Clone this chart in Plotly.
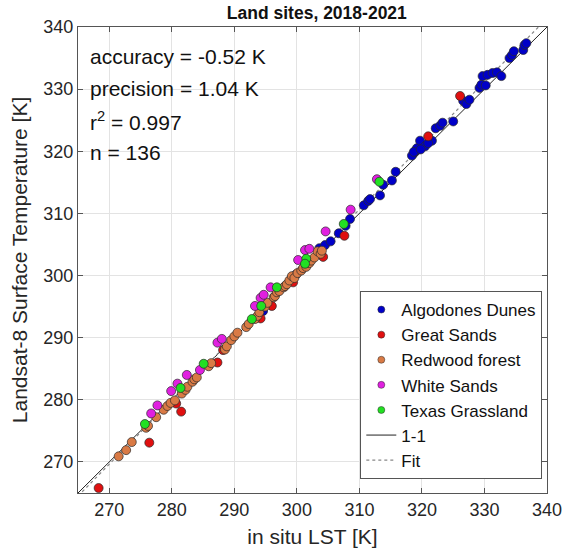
import numpy as np
import plotly.graph_objects as go

# ---------------- data ----------------
algodones_x = [299.9, 294.6, 303.6, 304.5, 305.4, 306.7, 307.8, 308.5, 310.7, 311.4,
               311.7, 313.3, 313.8, 315.2, 315.8, 318.4, 318.9, 319.2, 319.7, 320.5,
               321.6, 322.2, 322.9, 323.3, 325.0, 326.6, 327.1, 327.6, 329.2, 329.5,
               330.2, 329.7, 330.5, 331.3, 332.0, 332.7, 334.0, 334.4, 334.7, 336.2,
               336.4, 336.7, 318.7, 319.8, 321.0]
algodones_y = [300.2, 294.3, 304.4, 304.9, 305.5, 306.8, 308.0, 309.1, 311.3, 312.0,
               312.3, 312.9, 314.6, 315.3, 316.7, 319.3, 320.0, 320.5, 321.7, 320.8,
               321.7, 323.7, 324.1, 324.6, 324.8, 328.1, 327.6, 328.3, 330.2, 330.7,
               330.6, 332.1, 332.3, 332.6, 332.7, 332.1, 335.0, 335.5, 336.1, 336.3,
               337.1, 337.4, 319.9, 320.3, 321.3]

greatsands_x = [268.3, 276.4, 281.5, 280.7, 287.3, 288.2, 296.0, 294.2, 299.4, 304.2,
                307.6, 321.0, 326.1]
greatsands_y = [265.8, 273.1, 278.1, 279.4, 286.0, 288.0, 295.1, 293.1, 298.9, 303.0,
                306.4, 322.4, 328.9]

redwood_x = [271.5, 272.7, 273.6, 275.9, 276.2, 277.5, 278.7, 279.3, 279.8, 280.5,
             281.6, 282.2, 282.5, 283.3, 283.6, 284.0, 285.9, 286.3, 288.5, 288.8,
             289.5, 290.0, 290.5, 291.9, 292.3, 293.3, 293.7, 294.0, 294.9, 295.3,
             296.3, 296.5, 296.8, 297.2, 297.9, 298.1, 298.4, 298.8, 299.2, 299.6,
             300.1, 300.7, 301.0, 301.5, 302.0, 302.3, 302.8, 303.3, 303.8, 304.0]
redwood_y = [270.9, 271.9, 273.2, 275.5, 275.8, 277.2, 278.4, 279.0, 279.5, 279.9,
             281.0, 281.6, 282.1, 282.9, 283.3, 283.6, 285.4, 285.9, 288.1, 288.6,
             289.6, 290.2, 290.8, 291.7, 292.2, 293.0, 293.5, 294.1, 295.0, 295.6,
             296.5, 296.7, 297.3, 297.5, 298.1, 298.3, 298.6, 299.2, 299.9, 299.6,
             300.4, 300.8, 301.2, 301.4, 302.0, 302.4, 302.9, 303.9, 303.5, 304.0]

whitesands_x = [276.7, 277.7, 279.9, 280.9, 282.4, 284.5, 287.3, 288.0, 293.3, 294.2,
                294.7, 295.8, 300.2, 301.3, 302.0, 304.6, 308.6, 312.8]
whitesands_y = [277.8, 279.1, 281.4, 282.6, 284.0, 284.8, 289.2, 289.8, 295.1, 296.4,
                296.9, 298.1, 302.5, 304.1, 304.3, 307.1, 310.6, 315.5]

texas_x = [275.7, 281.4, 285.1, 292.8, 294.3, 296.8, 301.5, 301.3, 307.5, 313.2]
texas_y = [276.1, 281.9, 285.8, 293.0, 295.1, 298.1, 302.7, 301.9, 308.3, 315.1]

site_names = ["Algodones Dunes", "Great Sands", "Redwood forest", "White Sands", "Texas Grassland"]
site_colors = ["#0000C8", "#E01010", "#D97A45", "#E020E0", "#22E022"]

stats_lines = ["accuracy = -0.52 K", "precision = 1.04 K", "r<sup>2</sup> = 0.997", "n = 136"]
axis_range = [265, 340]
tick_vals = [270, 280, 290, 300, 310, 320, 330, 340]

FONT = "Liberation Sans, Arial, sans-serif"

# ---------------- figure ----------------
all_x = np.array(algodones_x + greatsands_x + redwood_x + whitesands_x + texas_x)
all_y = np.array(algodones_y + greatsands_y + redwood_y + whitesands_y + texas_y)
slope, intercept = np.polyfit(all_x, all_y, 1)
line_x = np.array(axis_range, dtype=float)

fig = go.Figure()

fig.add_trace(go.Scatter(x=line_x, y=line_x, mode="lines", name="1-1",
                         line=dict(color="#222222", width=1), legendrank=6))
fig.add_trace(go.Scatter(x=line_x, y=intercept + slope * line_x, mode="lines", name="Fit",
                         line=dict(color="#888888", width=1.2, dash="dot"), legendrank=7))

series = [(algodones_x, algodones_y), (greatsands_x, greatsands_y), (redwood_x, redwood_y),
          (whitesands_x, whitesands_y), (texas_x, texas_y)]
for i, ((xs, ys), name, col) in enumerate(zip(series, site_names, site_colors)):
    fig.add_trace(go.Scatter(x=xs, y=ys, mode="markers", name=name, showlegend=False,
                             legendgroup=name,
                             marker=dict(color=col, size=9,
                                         line=dict(color="#2a2a2a", width=0.7))))
    # legend entry with the small marker used in the reference legend
    fig.add_trace(go.Scatter(x=[None], y=[None], mode="markers", name=name,
                             legendgroup=name, legendrank=i + 1,
                             marker=dict(color=col, size=7,
                                         line=dict(color="#2a2a2a", width=0.5))))

stat_y = [0.936, 0.868, 0.799, 0.731]
for txt, yy in zip(stats_lines, stat_y):
    fig.add_annotation(x=0.021, y=yy, xref="paper", yref="paper",
                       text=txt, showarrow=False, xanchor="left", yanchor="middle",
                       font=dict(size=21, color="#111111", family=FONT))

axis_common = dict(range=axis_range, tickvals=tick_vals, ticks="inside", ticklen=5,
                   tickcolor="#555555", showline=True, linecolor="#555555", linewidth=1,
                   mirror="ticks", showgrid=True, gridcolor="#E3E3E3", gridwidth=1,
                   zeroline=False, ticklabeloverflow="allow",
                   tickfont=dict(size=18, color="#262626", family=FONT))

fig.update_layout(
    width=574, height=556,
    margin=dict(l=78, r=17, t=27, b=59),
    paper_bgcolor="white", plot_bgcolor="white",
    font=dict(family=FONT, color="#262626"),
    title=dict(text="<b>Land sites, 2018-2021</b>", x=0.552, xanchor="center",
               y=0.988, yanchor="top", font=dict(size=17.5, color="#111111", family=FONT)),
    xaxis=dict(axis_common, title=dict(text="in situ LST [K]",
                                       font=dict(size=21, family=FONT), standoff=10)),
    yaxis=dict(axis_common, title=dict(text="Landsat-8 Surface Temperature [K]",
                                       font=dict(size=21, family=FONT), standoff=10)),
    showlegend=True,
    legend=dict(x=0.99, xanchor="right", y=0.03, yanchor="bottom",
                bgcolor="white", bordercolor="#555555", borderwidth=1,
                font=dict(size=17, color="#111111", family=FONT),
                tracegroupgap=0),
)

# pin the page to exactly the window size so the figure sits at (0, 0) unscaled
page_css = ("var s='margin:0;padding:0;overflow:hidden;width:574px;height:556px;';"
            "document.documentElement.style.cssText=s;document.body.style.cssText=s;")
fig.write_html("out.html", config={"displayModeBar": False}, post_script=page_css)
